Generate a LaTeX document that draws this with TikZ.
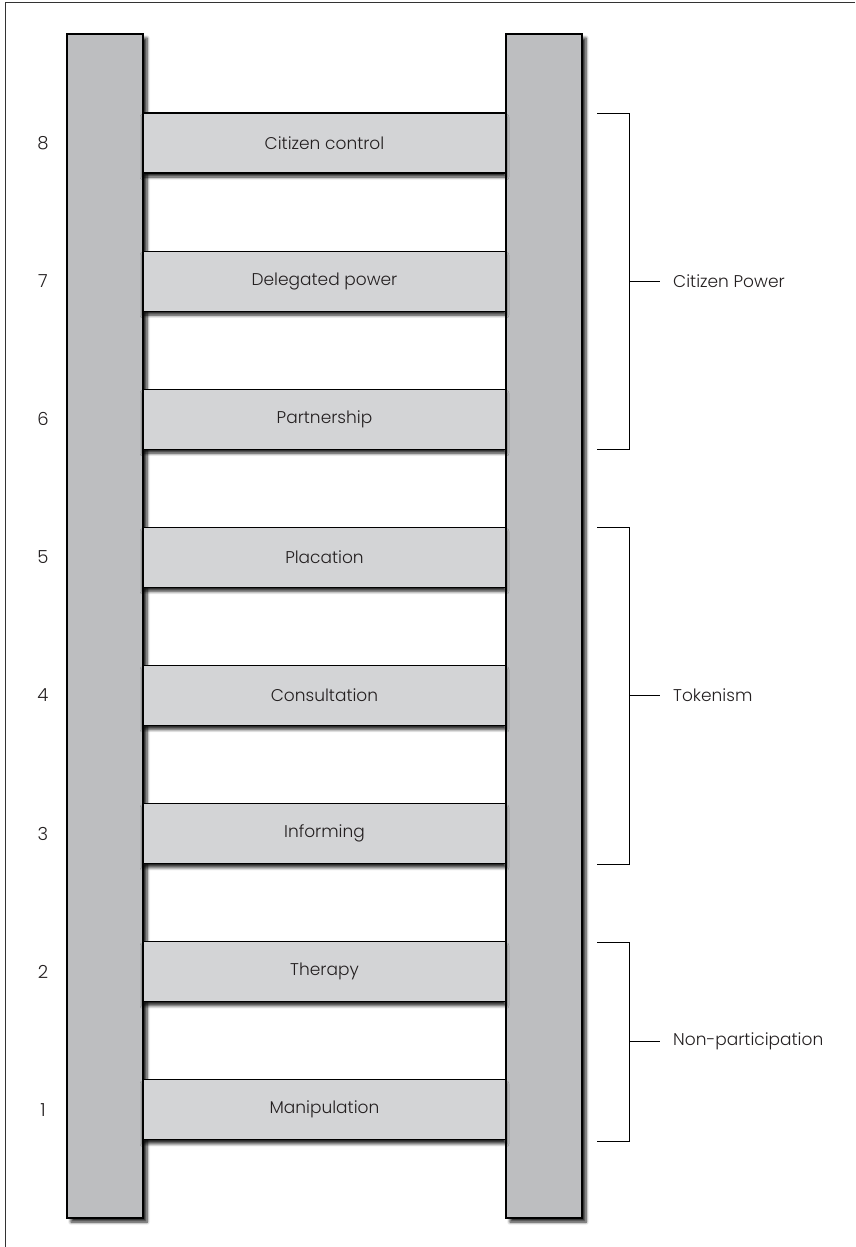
\documentclass[tikz,border=0pt]{standalone}
\usepackage{fontspec}
\setmainfont{Poppins Light}
\usetikzlibrary{shadows.blur}
\definecolor{railgray}{HTML}{BDBEC0}
\definecolor{runggray}{HTML}{D3D4D6}
\definecolor{txt}{HTML}{231F20}
\tikzset{
  rail/.style={draw=black, line width=1.1pt, fill=railgray, minimum width=76pt, minimum height=1184pt, inner sep=0pt,
    blur shadow={shadow xshift=4pt, shadow yshift=-4pt, shadow blur steps=6, shadow blur radius=3pt, shadow opacity=85}},
  rung/.style={draw=black, line width=1.1pt, fill=runggray, minimum width=363pt, minimum height=60pt, inner sep=0pt,
    text=txt, font=\fontsize{17}{19}\selectfont,
    blur shadow={shadow xshift=0pt, shadow yshift=-4pt, shadow blur steps=6, shadow blur radius=3pt, shadow opacity=85}},
  num/.style={text=txt, font=\fontsize{18}{19}\selectfont},
  lbl/.style={text=txt, font=\fontsize{17}{19}\selectfont, anchor=west, inner sep=0pt},
  brk/.style={draw=black, line width=0.9pt},
}
\begin{document}
\begin{tikzpicture}[x=1pt, y=-1pt]
\useasboundingbox (0,0) rectangle (855,1247);
\draw[line width=1pt, draw=black!80] (5,1247) -- (5,3) -- (855,3);
\node[rail] (lrail) at (105,626) {};
\node[rail] (rrail) at (544,626) {};
\foreach \i/\t [count=\k from 0] in {8/Citizen control,7/Delegated power,6/Partnership,5/Placation,4/Consultation,3/Informing,2/Therapy,1/Manipulation}{
  \pgfmathsetmacro{\yy}{143+\k*138.1}
  \node[rung] (r\i) at (324.5,\yy) {\t};
  \node[num] (n\i) at (43,\yy) {\i};
}
% brackets
\coordinate (a1) at (597,113); \coordinate (a2) at (629,113);
\coordinate (a3) at (629,449); \coordinate (a4) at (597,449);
\coordinate (am) at (629,281); \coordinate (at) at (660,281);
\draw[brk] (a1) -- (a2) -- (a3) -- (a4);
\draw[brk] (am) -- (at);
\node[lbl] (cp) at (673,281) {Citizen Power};
\coordinate (b1) at (597,527); \coordinate (b2) at (629,527);
\coordinate (b3) at (629,864); \coordinate (b4) at (597,864);
\coordinate (bm) at (629,695.5); \coordinate (bt) at (660,695.5);
\draw[brk] (b1) -- (b2) -- (b3) -- (b4);
\draw[brk] (bm) -- (bt);
\node[lbl] (tk) at (673,695.5) {Tokenism};
\coordinate (c1) at (597,942); \coordinate (c2) at (629,942);
\coordinate (c3) at (629,1141); \coordinate (c4) at (597,1141);
\coordinate (cm) at (629,1041.5); \coordinate (ct) at (660,1041.5);
\draw[brk] (c1) -- (c2) -- (c3) -- (c4);
\draw[brk] (cm) -- (ct);
\node[lbl] (np) at (673,1041.5) {Non-participation};
\end{tikzpicture}
\end{document}
